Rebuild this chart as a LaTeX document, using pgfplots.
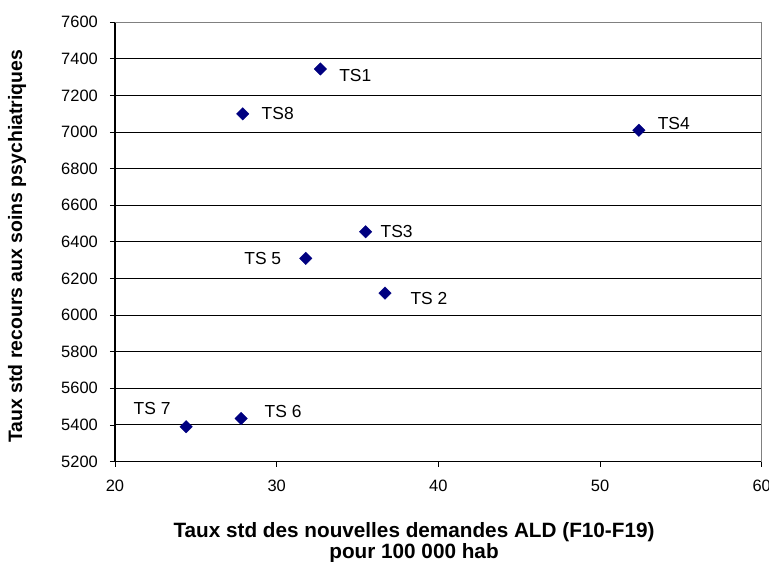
\documentclass[border=0pt]{standalone}
\usepackage{fontspec}
\setmainfont{Liberation Sans}
\usepackage{pgfplots}
\usepackage{pgfplotstable}
\pgfplotsset{compat=1.18}
\definecolor{navy}{RGB}{0,0,128}

% x, y, label, label offset (bp)
\pgfplotstableread[col sep=comma]{
x,y,lbl,lx,ly
32.7,7345,TS1,35,-7
36.7,6120,TS 2,44,-5
35.5,6455,TS3,31,0
52.4,7010,TS4,35,7
31.8,6310,TS 5,-43,0
27.8,5435,TS 6,42,7
24.4,5390,TS 7,-34,18
27.9,7100,TS8,35,0
}\pts

\begin{document}
\begin{tikzpicture}
\begin{axis}[
  name=ax,
  scale only axis,
  width=646.7bp, height=439.2bp,
  xmin=20, xmax=60, ymin=5200, ymax=7600,
  xtick={20,30,...,60},
  ytick={5200,5400,...,7600},
  axis x line*=bottom, axis y line*=left,
  x axis line style={-, line width=1.6bp},
  y axis line style={-, line width=1.6bp},
  tick align=outside, major tick length=5bp,
  tick style={black, line width=0.8bp},
  ymajorgrids, grid style={black, line width=0.9bp},
  /pgf/number format/assume math mode=true,
  /pgf/number format/1000 sep={},
  ticklabel style={font=\fontsize{16.5}{19}\selectfont, inner sep=0pt},
  xticklabel style={yshift=-13bp},
  yticklabel style={xshift=-12bp},
  xlabel={Taux std des nouvelles demandes ALD (F10-F19)\\pour 100 000 hab},
  xlabel style={font=\bfseries\fontsize{20.8}{21.5}\selectfont, align=center,
    inner sep=0pt, at={(axis description cs:0.4624,0)}, anchor=north, yshift=-60.5bp},
  ylabel={Taux std recours aux soins psychiatriques},
  ylabel style={font=\bfseries\fontsize{19.5}{21.5}\selectfont,
    inner sep=0pt, at={(axis description cs:-0.1515,0.49)}, anchor=center},
  extra description/.code={
    \draw[gray, line width=0.9bp] (rel axis cs:0,1) -- (rel axis cs:1,1) -- (rel axis cs:1,0);
  },
]
\addplot[only marks, mark=square*, mark size=4.4bp,
  mark options={rotate=45, fill=navy, draw=navy}]
  table[x=x, y=y] {\pts};
% point labels
\pgfplotsforeachungrouped \i in {0,...,7} {
  \pgfplotstablegetelem{\i}{x}\of\pts \let\vx\pgfplotsretval
  \pgfplotstablegetelem{\i}{y}\of\pts \let\vy\pgfplotsretval
  \pgfplotstablegetelem{\i}{lbl}\of\pts \let\vl\pgfplotsretval
  \pgfplotstablegetelem{\i}{lx}\of\pts \let\dxx\pgfplotsretval
  \pgfplotstablegetelem{\i}{ly}\of\pts \let\dyy\pgfplotsretval
  \edef\temp{\noexpand\node[font=\noexpand\fontsize{17.5}{20}\noexpand\selectfont,
    inner sep=0pt, anchor=center, xshift=\dxx bp, yshift=\dyy bp]
    at (axis cs:\vx,\vy) {\vl};}
  \temp
}
\end{axis}
\pgfresetboundingbox
\useasboundingbox ([xshift=-115bp,yshift=-100.5bp]ax.south west) rectangle ([xshift=7.3bp,yshift=22.3bp]ax.north east);
\end{tikzpicture}
\end{document}
